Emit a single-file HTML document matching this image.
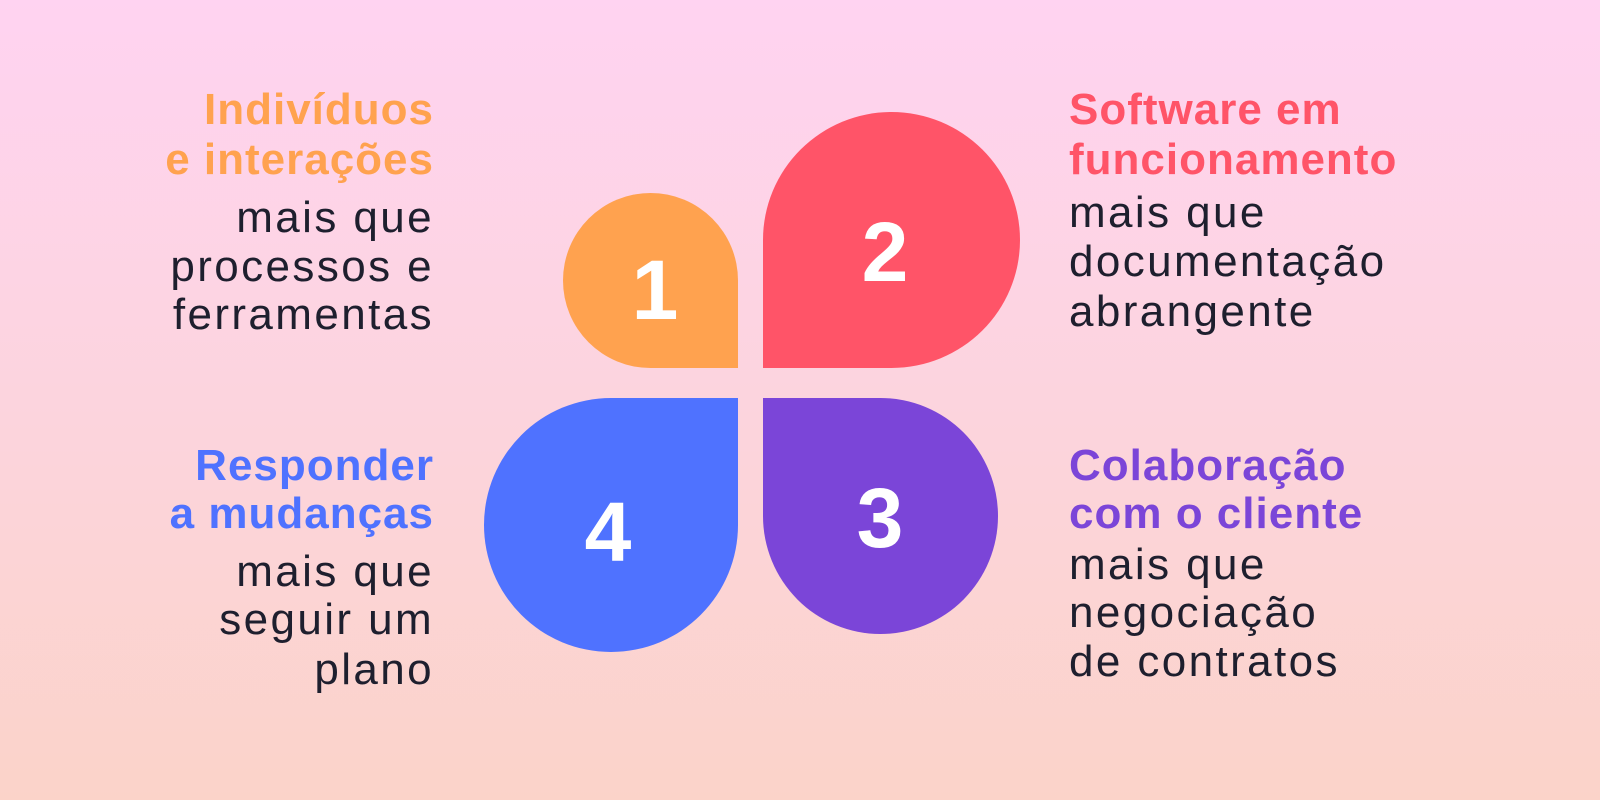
<!DOCTYPE html>
<html><head><meta charset="utf-8"><style>
html,body{margin:0;padding:0}
body{width:1600px;height:800px;position:relative;overflow:hidden;background:linear-gradient(180deg,#ffd3f1 0%,#fcd4dc 55%,#fbd3c9 100%);font-family:"Liberation Sans",sans-serif}
.p{position:absolute}
.l{position:absolute;font-size:44px;line-height:48px;white-space:nowrap;color:#1e1f2e;letter-spacing:2.4px}
.r{text-align:right;right:1166px}
.lft{left:1069px}
.h{font-weight:bold;letter-spacing:1px}
.n{position:absolute;color:#fff;font-weight:bold;font-size:84px;text-align:center;line-height:1}
</style></head><body>
<div class="p" style="left:563px;top:193px;width:175px;height:175px;background:#ffa24f;border-radius:50% 50% 0 50%"></div>
<div class="p" style="left:763px;top:112px;width:257px;height:256px;background:#ff5468;border-radius:50% 50% 50% 0"></div>
<div class="p" style="left:763px;top:398px;width:235px;height:236px;background:#7b45d8;border-radius:0 50% 50% 50%"></div>
<div class="p" style="left:484px;top:398px;width:254px;height:254px;background:#4f72ff;border-radius:50% 0 50% 50%"></div>
<div class="n" style="left:610px;top:248px;width:90px">1</div>
<div class="n" style="left:840px;top:210px;width:90px">2</div>
<div class="n" style="left:835px;top:476px;width:90px">3</div>
<div class="n" style="left:563px;top:490px;width:90px">4</div>

<div class="l r h" style="top:86px;color:#ffa24f">Indivíduos</div>
<div class="l r h" style="top:136px;color:#ffa24f">e interações</div>
<div class="l r" style="top:194px">mais que</div>
<div class="l r" style="top:243px">processos e</div>
<div class="l r" style="top:291px">ferramentas</div>

<div class="l lft h" style="top:86px;color:#ff5468">Software em</div>
<div class="l lft h" style="top:136px;color:#ff5468">funcionamento</div>
<div class="l lft" style="top:189px">mais que</div>
<div class="l lft" style="top:238px">documentação</div>
<div class="l lft" style="top:288px">abrangente</div>

<div class="l r h" style="top:442px;color:#4f72ff">Responder</div>
<div class="l r h" style="top:490px;color:#4f72ff">a mudanças</div>
<div class="l r" style="top:548px">mais que</div>
<div class="l r" style="top:596px">seguir um</div>
<div class="l r" style="top:646px">plano</div>

<div class="l lft h" style="top:442px;color:#7b45d8">Colaboração</div>
<div class="l lft h" style="top:490px;color:#7b45d8">com o cliente</div>
<div class="l lft" style="top:541px">mais que</div>
<div class="l lft" style="top:589px">negociação</div>
<div class="l lft" style="top:638px">de contratos</div>
</body></html>
